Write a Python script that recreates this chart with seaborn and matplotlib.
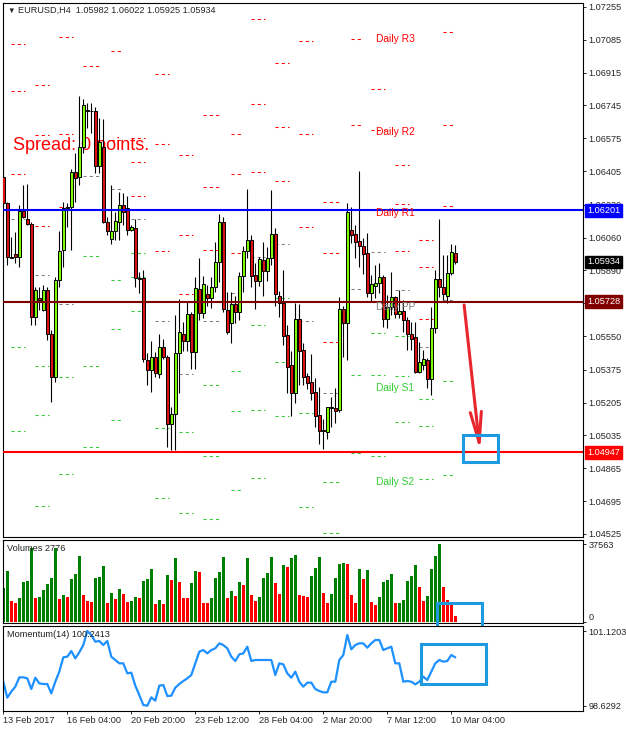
import numpy as np
import matplotlib
matplotlib.use("Agg")
import matplotlib.pyplot as plt
from matplotlib.patches import Rectangle
import seaborn as sns

# ---- price data (H4 candles, EURUSD) ----
opens = [1.06373, 1.06238, 1.05962, 1.05974, 1.05958, 1.06198, 1.06155, 1.06129, 1.05651, 1.05746,
         1.05685, 1.05789, 1.05559, 1.05340, 1.05839, 1.05994, 1.06212, 1.06217, 1.06398, 1.06373,
         1.06531, 1.06721, 1.06714, 1.06716, 1.06433, 1.06531, 1.06143, 1.06051, 1.06096, 1.06143,
         1.06229, 1.06212, 1.06100, 1.06108, 1.05849, 1.05849, 1.05426, 1.05374, 1.05443, 1.05352,
         1.05492, 1.05443, 1.05093, 1.05146, 1.05461, 1.05559, 1.05526, 1.05665, 1.05466, 1.05792,
         1.05671, 1.05768, 1.05746, 1.05806, 1.05932, 1.06139, 1.05685, 1.05616, 1.05715, 1.05677,
         1.05861, 1.05989, 1.06048, 1.05867, 1.05837, 1.05944, 1.05887, 1.05953, 1.06079, 1.05760,
         1.05720, 1.05556, 1.05400, 1.05254, 1.05637, 1.05478, 1.05345, 1.05311, 1.05259, 1.05141,
         1.05064, 1.05055, 1.05181, 1.05176, 1.05167, 1.05689, 1.05616, 1.06100, 1.06077, 1.06043,
         1.06018, 1.05979, 1.05775, 1.05809, 1.05823, 1.05854, 1.05637, 1.05702, 1.05751, 1.05663,
         1.05678, 1.05633, 1.05561, 1.05543, 1.05366, 1.05400, 1.05426, 1.05326, 1.05590, 1.05844,
         1.05802, 1.05758, 1.05875, 1.05982]
highs = [1.06471, 1.06246, 1.06065, 1.06091, 1.06229, 1.06333, 1.06338, 1.06143, 1.05806, 1.05806,
         1.05815, 1.05806, 1.05582, 1.05858, 1.06096, 1.06246, 1.06238, 1.06416, 1.06497, 1.06794,
         1.06777, 1.06756, 1.06756, 1.06739, 1.06678, 1.06673, 1.06169, 1.06333, 1.06195, 1.06298,
         1.06290, 1.06276, 1.06126, 1.06155, 1.05884, 1.05892, 1.05461, 1.05526, 1.05469, 1.05561,
         1.05533, 1.05452, 1.05184, 1.05659, 1.05741, 1.05621, 1.05725, 1.05673, 1.05855, 1.05953,
         1.05861, 1.05815, 1.05858, 1.06039, 1.06182, 1.06169, 1.05780, 1.05777, 1.05758, 1.05884,
         1.06017, 1.06312, 1.06074, 1.05930, 1.05962, 1.06036, 1.06013, 1.06307, 1.06108, 1.05784,
         1.05892, 1.05608, 1.05475, 1.05720, 1.05716, 1.05513, 1.05357, 1.05457, 1.05331, 1.05288,
         1.05119, 1.05184, 1.05236, 1.05279, 1.05754, 1.05706, 1.06238, 1.06220, 1.06125, 1.06405,
         1.06056, 1.06086, 1.05866, 1.05918, 1.05927, 1.05866, 1.05763, 1.05884, 1.05758, 1.05789,
         1.05737, 1.05651, 1.05625, 1.05625, 1.05518, 1.05478, 1.05435, 1.05702, 1.05892, 1.06155,
         1.05970, 1.05970, 1.06025, 1.06022]
lows = [1.06221, 1.05918, 1.05953, 1.05927, 1.05910, 1.06160, 1.06126, 1.05607, 1.05607, 1.05685,
        1.05682, 1.05530, 1.05210, 1.05314, 1.05806, 1.05910, 1.06117, 1.05996, 1.06246, 1.06333,
        1.06497, 1.06626, 1.06600, 1.06393, 1.06393, 1.06134, 1.06074, 1.06027, 1.06048, 1.06048,
        1.06126, 1.06074, 1.06092, 1.05806, 1.05772, 1.05418, 1.05297, 1.05262, 1.05340, 1.05331,
        1.05430, 1.04977, 1.04960, 1.04960, 1.05254, 1.05475, 1.05475, 1.05378, 1.05378, 1.05633,
        1.05642, 1.05708, 1.05694, 1.05780, 1.05829, 1.05677, 1.05561, 1.05512, 1.05616, 1.05633,
        1.05780, 1.05953, 1.05806, 1.05692, 1.05810, 1.05760, 1.05837, 1.05918, 1.05708, 1.05651,
        1.05504, 1.05257, 1.05138, 1.05202, 1.05297, 1.05297, 1.05276, 1.05219, 1.05081, 1.04989,
        1.04963, 1.05017, 1.05081, 1.05102, 1.05159, 1.05443, 1.05426, 1.06030, 1.05953, 1.05906,
        1.05872, 1.05754, 1.05733, 1.05746, 1.05771, 1.05599, 1.05590, 1.05659, 1.05642, 1.05642,
        1.05573, 1.05478, 1.05478, 1.05357, 1.05357, 1.05374, 1.05279, 1.05245, 1.05564, 1.05754,
        1.05737, 1.05723, 1.05866, 1.05925]
closes = [1.06238, 1.05958, 1.05955, 1.05958, 1.06198, 1.06165, 1.06129, 1.05651, 1.05789, 1.05737,
          1.05789, 1.05559, 1.05340, 1.05839, 1.05989, 1.06212, 1.06217, 1.06398, 1.06367, 1.06531,
          1.06747, 1.06714, 1.06716, 1.06433, 1.06554, 1.06143, 1.06096, 1.06096, 1.06146, 1.06229,
          1.06195, 1.06100, 1.06114, 1.05849, 1.05847, 1.05430, 1.05374, 1.05443, 1.05361, 1.05495,
          1.05443, 1.05093, 1.05146, 1.05464, 1.05570, 1.05526, 1.05665, 1.05466, 1.05798, 1.05668,
          1.05818, 1.05746, 1.05806, 1.05932, 1.06139, 1.05689, 1.05573, 1.05715, 1.05677, 1.05861,
          1.05989, 1.06048, 1.05863, 1.05837, 1.05949, 1.05887, 1.05953, 1.06079, 1.05766, 1.05720,
          1.05552, 1.05392, 1.05254, 1.05639, 1.05475, 1.05340, 1.05309, 1.05257, 1.05138, 1.05060,
          1.05060, 1.05181, 1.05179, 1.05164, 1.05689, 1.05616, 1.06195, 1.06074, 1.06039, 1.06018,
          1.05975, 1.05775, 1.05818, 1.05823, 1.05854, 1.05637, 1.05702, 1.05751, 1.05663, 1.05678,
          1.05633, 1.05561, 1.05535, 1.05366, 1.05414, 1.05431, 1.05326, 1.05590, 1.05844, 1.05802,
          1.05768, 1.05875, 1.05984, 1.05934]

volumes = [16120, 24664, 10156, 9188, 11606, 19344, 19505, 35464, 11606, 11768,
           15314, 18216, 21278, 35786, 11123, 12896, 12090, 20472, 23052, 31756,
           12896, 10156, 9672, 21278, 21762, 27082, 9188, 14024, 11123, 15798,
           13541, 9672, 10156, 12090, 11606, 19666, 20472, 25631, 8705, 10639,
           8705, 22568, 20311, 30789, 19344, 11606, 11284, 18860, 24664, 24180,
           9188, 9027, 11284, 21278, 24180, 31434, 11606, 14992, 12574, 19344,
           17893, 30789, 12896, 10156, 12090, 20956, 23374, 31434, 18860, 13541,
           27404, 26598, 30789, 32240, 12896, 12412, 12090, 22084, 26114, 31434,
           14024, 9188, 13380, 21278, 28049, 28371, 27888, 12896, 9027, 25470,
           20634, 24986, 9511, 8060, 11929, 19022, 20150, 23052, 9027, 9188,
           10478, 19828, 22246, 27404, 16604, 10156, 12412, 25631, 31918, 37563,
           16926, 10317, 8544, 2776]

momentum = [99.430, 98.896, 99.096, 99.263, 99.575, 99.575, 99.541, 99.185, 99.563, 99.374,
            99.352, 99.352, 99.041, 99.430, 99.764, 100.242, 100.264, 100.453, 100.208, 100.409,
            100.653, 101.120, 100.987, 100.764, 100.787, 100.653, 100.787, 100.264, 100.153, 100.042,
            100.042, 99.708, 99.730, 99.297, 98.985, 98.652, 98.629, 98.907, 98.796, 99.297,
            99.319, 98.952, 98.963, 99.230, 99.352, 99.452, 99.541, 99.652, 100.042, 100.431,
            100.486, 100.375, 100.486, 100.542, 100.709, 100.653, 100.542, 100.264, 100.119, 100.342,
            100.375, 100.598, 100.119, 100.153, 100.153, 100.153, 100.153, 100.153, 99.652, 100.042,
            100.008, 99.708, 99.563, 99.764, 99.430, 99.263, 99.397, 99.397, 99.185, 99.119,
            99.074, 99.074, 99.430, 99.430, 100.153, 100.320, 100.987, 100.509, 100.653, 100.709,
            100.709, 100.564, 100.709, 100.820, 100.820, 100.486, 100.542, 100.598, 100.042, 100.042,
            99.430, 99.452, 99.430, 99.341, 99.430, 99.597, 99.486, 99.764, 100.042, 100.153,
            100.097, 100.119, 100.320, 100.2413]

# ---- daily pivot levels (one entry per day) ----
nan = np.nan
day_first_bar = [2, 8, 14, 20, 27, 32, 38, 44, 50, 57, 62, 68, 74, 80, 87, 92, 98, 104, 110]
day_last_bar = [5, 11, 17, 24, 29, 35, 41, 47, 54, 59, 65, 71, 77, 84, 89, 95, 101, 107, 112]
r3 = [1.07062, 1.06851, 1.07101, nan, nan, 1.06578, 1.06908, 1.06488, 1.06694, 1.06595,
      1.07193, 1.06966, 1.07077, 1.06243, 1.07089, 1.06828, 1.06436, 1.06046, 1.07124]
r2 = [1.06821, 1.06592, 1.06595, nan, 1.07028, 1.06450, 1.06544, 1.06072, 1.06322, 1.06390,
      1.06752, 1.06633, 1.06595, 1.05979, 1.06642, 1.06618, 1.06234, 1.05906, 1.06642]
r1 = [1.06388, 1.06120, 1.06217, 1.06951, 1.06566, 1.06276, 1.05991, 1.05768, 1.05994, 1.05979,
      1.06399, 1.06353, 1.06114, 1.05518, 1.06203, 1.06203, 1.05991, 1.05637, 1.06224]
pp = [1.06155, 1.05865, 1.05715, 1.06379, 1.06310, 1.06155, 1.05627, 1.05352, 1.05627, 1.05772,
      1.05958, 1.06026, 1.05627, 1.05254, 1.05794, 1.05986, 1.05787, 1.05492, 1.05737]
s1 = [1.05725, 1.05394, 1.05337, 1.05963, 1.05841, 1.05979, 1.05072, 1.05052, 1.05295, 1.05368,
      1.05606, 1.05746, 1.05153, 1.04794, 1.05349, 1.05565, 1.05551, 1.05224, 1.05317]
s2 = [1.05492, 1.05140, 1.04834, 1.05394, 1.05585, 1.05855, 1.04710, 1.04632, 1.04927, 1.05161,
      1.05166, 1.05414, 1.04665, 1.04529, 1.04945, 1.05349, 1.05342, 1.05084, 1.04829]
s3 = [1.05057, 1.04668, nan, 1.04974, 1.05114, 1.05679, nan, nan, 1.04601, 1.04751,
      1.04813, 1.05135, nan, nan, nan, 1.04927, 1.05105, 1.04811, nan]

# horizontal lines drawn by hand
line_values = [1.06201, 1.05728, 1.04947]
line_colors = ["#0000FF", "#800000", "#FF0000"]

price_ticks = [1.07255, 1.07085, 1.06915, 1.06745, 1.06575, 1.06405, 1.06230, 1.06060, 1.05890,
               1.05720, 1.05550, 1.05375, 1.05205, 1.05035, 1.04865, 1.04695, 1.04525]
hidden_ticks = [1.05720]  # covered by the PP price box
time_tick_bars = [0, 16, 32, 48, 64, 80, 96, 112]
time_tick_labels = ["13 Feb 2017", "16 Feb 04:00", "20 Feb 20:00", "23 Feb 12:00",
                    "28 Feb 04:00", "2 Mar 20:00", "7 Mar 12:00", "10 Mar 04:00"]
vol_ticks = [0, 37563]
mom_ticks = [98.6292, 101.1203]

BULL = "#7CFC00"
BEAR = "#E01010"
RED = "#FF0000"
GRAY = "#808080"
GREEN = "#32CD32"
HILITE = "#1E9BE0"

W, H = 626, 732

sns.set_style("white")
plt.rcParams["font.family"] = ["Liberation Sans", "DejaVu Sans"]

fig = plt.figure(figsize=(W / 100, H / 100), dpi=100)


def panel(top, bottom, left=3, right=583):
    return fig.add_axes([left / W, 1 - bottom / H, (right - left) / W, (bottom - top) / H])


def fpos(x, y):
    return x / W, 1 - y / H


ax = panel(2.5, 537)
axv = panel(539.5, 622.5)
axm = panel(625.5, 711)

bars = np.arange(len(closes))
o, h, l, c = (np.array(a) for a in (opens, highs, lows, closes))
up = c >= o

# spread text sits behind the candles
ax.text(10 / 580, 1 - 143.5 / 534.5, "Spread: 0 points.", transform=ax.transAxes,
        fontsize=13, color=RED, va="center", ha="left", zorder=0.5)

# pivot dashes
pivot_sets = [(r3, RED), (r2, RED), (r1, RED), (pp, GRAY), (s1, GREEN), (s2, GREEN), (s3, GREEN)]
for levels, col in pivot_sets:
    for first, last, lev in zip(day_first_bar, day_last_bar, levels):
        if np.isnan(lev):
            continue
        ax.plot([first - 0.1, last + 0.5], [lev, lev], color=col, lw=0.75, ls=(0, (3, 3)), zorder=1)

# candles
ax.vlines(bars, l, h, color="black", lw=0.8, zorder=2)
ax.bar(bars, np.maximum(np.abs(c - o), 0.00003), bottom=np.minimum(o, c), width=0.62,
       color=np.where(up, BULL, BEAR), edgecolor="black", linewidth=0.7, zorder=3)

# level lines + price boxes
for val, col in zip(line_values, line_colors):
    ax.axhline(val, color=col, lw=1.5, zorder=4)
box_items = list(zip(line_values, line_colors)) + [(closes[-1], "black")]
for val, col in box_items:
    ax.annotate(f"{val:.5f}", xy=(1, val), xycoords=("axes fraction", "data"),
                xytext=(3, 0), textcoords="offset points", ha="left", va="center",
                fontsize=6.6, color="white", annotation_clip=False, zorder=8,
                bbox=dict(boxstyle="square,pad=0.2", fc=col, ec=col))

# daily pivot names at the current day
label_bar = 93.2
names = ["Daily R3", "Daily R2", "Daily R1", "Daily PP", "Daily S1", "Daily S2"]
for name, (levels, col) in zip(names, pivot_sets[:6]):
    ax.annotate(name, xy=(label_bar, levels[-1]), xytext=(0, -7), textcoords="offset pixels",
                ha="left", va="center", fontsize=7.4, color=col, zorder=5)

ax.set_xlim(-0.075, 144.925)
ax.set_ylim(1.04509, 1.07278)
ax.set_xticks([])
ax.yaxis.tick_right()
ax.set_yticks(price_ticks)
ax.set_yticklabels(["" if t in hidden_ticks else f"{t:.5f}" for t in price_ticks])
ax.tick_params(axis="y", right=True, left=False, labelsize=6.6, length=2.2, width=0.7, pad=2)

# arrow and highlight box
ax.annotate("", xy=(119.2, 1.04955), xytext=(115.2, 1.05711),
            arrowprops=dict(arrowstyle="->,head_length=2.2,head_width=0.4", color="#E8262E",
                            lw=2.2, shrinkA=0, shrinkB=0, mutation_scale=10), zorder=6)
ax.add_patch(Rectangle((114.8, 1.04898), 8.75, 0.00142, fill=False, ec=HILITE, lw=2.2,
                       clip_on=False, zorder=7))

# volumes, green when volume rises
vol = np.array(volumes)
vol_up = np.r_[True, vol[1:] > vol[:-1]]
axv.bar(bars, vol, width=0.7, color=np.where(vol_up, "#008000", "#FF0000"), linewidth=0)
axv.set_xlim(-0.075, 144.925)
axv.set_ylim(-390, 39740)
axv.set_xticks([])
axv.yaxis.tick_right()
axv.set_yticks(vol_ticks)
axv.set_yticklabels([str(t) for t in vol_ticks])
axv.get_yticklabels()[0].set_verticalalignment("bottom")
axv.tick_params(axis="y", right=True, left=False, labelsize=6.6, length=2.2, width=0.7, pad=2)
axv.add_patch(Rectangle((108.4, -4496), 11.3, 13536, fill=False, ec=HILITE, lw=2.2,
                        clip_on=False, zorder=7))

# momentum
sns.lineplot(x=bars, y=momentum, ax=axm, color="#1E90FF", linewidth=1.6)
axm.set_xlim(-0.075, 144.925)
axm.set_ylim(98.452, 101.304)
axm.set_ylabel("")
axm.yaxis.tick_right()
axm.set_yticks(mom_ticks)
axm.set_yticklabels([f"{t:.4f}" for t in mom_ticks])
axm.tick_params(axis="y", right=True, left=False, labelsize=6.6, length=2.2, width=0.7, pad=2)
axm.set_xticks(time_tick_bars)
axm.set_xticklabels(time_tick_labels, ha="left")
axm.tick_params(axis="x", bottom=True, labelsize=6.6, length=2.2, width=0.7, pad=1.5)
axm.add_patch(Rectangle((104.3, 99.336), 16.4, 1.367, fill=False, ec=HILITE, lw=2.2,
                        clip_on=False, zorder=7))

for a in (ax, axv, axm):
    for s in a.spines.values():
        s.set_color("black")
        s.set_linewidth(0.8)

# header texts
fig.text(*fpos(7, 11), "▼", fontsize=5.5, va="center", ha="left")
fig.text(*fpos(18, 10.7), f"EURUSD,H4  {opens[-1]:.5f} {highs[-1]:.5f} {lows[-1]:.5f} {closes[-1]:.5f}",
         fontsize=6.6, va="center", ha="left")
fig.text(*fpos(7, 548.5), f"Volumes {volumes[-1]}", fontsize=6.6, va="center", ha="left",
         color="#202020", zorder=9)
fig.text(*fpos(7, 634.5), f"Momentum(14) {momentum[-1]:.4f}", fontsize=6.6, va="center",
         ha="left", color="#202020", zorder=9)

fig.savefig("out.png", dpi=100)
